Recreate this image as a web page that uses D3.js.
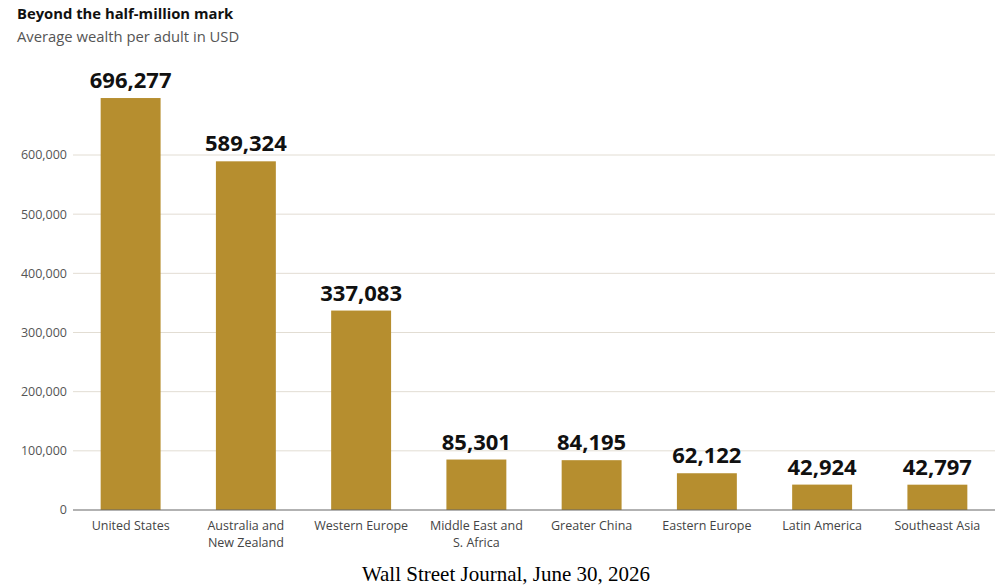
<!DOCTYPE html>
<html>
<head>
<meta charset="utf-8">
<script src="https://cdn.jsdelivr.net/npm/d3@7"></script>
<style>
  body { margin: 0; background: #fff; }
  text { font-family: "Open Sans", "Noto Sans", sans-serif; }
</style>
</head>
<body>
<div class="container"></div>
<script>
const regions = ['United States', 'Australia and|New Zealand', 'Western Europe', 'Middle East and|S. Africa',
    'Greater China', 'Eastern Europe', 'Latin America', 'Southeast Asia'];
const wealth = [696277, 589324, 337083, 85301, 84195, 62122, 42924, 42797];
const yTicks = [0, 100000, 200000, 300000, 400000, 500000, 600000];

const width = 1004;
const height = 587;
const margin = { top: 98, bottom: 77, left: 73, right: 9 };

const svg = d3.select('.container')
    .append('svg')
    .attr('width', width)
    .attr('height', height);

const x = d3.scaleBand()
    .domain(regions)
    .range([margin.left, width - margin.right])
    .paddingInner(0.48)
    .paddingOuter(0.24);

const y = d3.scaleLinear()
    .domain([0, 600000])
    .range([height - margin.bottom, 155]);

const fmt = d3.format(',');

// gridlines
svg.append('g')
    .selectAll('line')
    .data(yTicks.slice(1))
    .join('line')
    .attr('x1', margin.left)
    .attr('x2', width - margin.right)
    .attr('y1', d => y(d))
    .attr('y2', d => y(d))
    .style('stroke', '#e2ddd3')
    .style('stroke-width', 1);

// y tick labels
svg.append('g')
    .selectAll('text')
    .data(yTicks)
    .join('text')
    .attr('x', margin.left - 6)
    .attr('y', d => y(d))
    .attr('dy', '0.35em')
    .attr('text-anchor', 'end')
    .style('font-size', '12.5px')
    .style('fill', '#555')
    .text(d => fmt(d));

// bars
svg.append('g')
    .selectAll('rect')
    .data(wealth)
    .join('rect')
    .attr('x', (d, i) => x(regions[i]))
    .attr('y', d => y(d))
    .attr('width', x.bandwidth())
    .attr('height', d => y(0) - y(d))
    .style('fill', '#b68e2f');

// value labels
svg.append('g')
    .selectAll('text')
    .data(wealth)
    .join('text')
    .attr('x', (d, i) => x(regions[i]) + x.bandwidth() / 2)
    .attr('y', d => y(d) - 10)
    .attr('text-anchor', 'middle')
    .style('font-size', '22px')
    .style('font-weight', 'bold')
    .style('fill', '#111')
    .text(d => fmt(d));

// baseline
svg.append('line')
    .attr('x1', margin.left)
    .attr('x2', width - margin.right)
    .attr('y1', y(0))
    .attr('y2', y(0))
    .style('stroke', '#666')
    .style('stroke-width', 1.2);

// category labels
const cat = svg.append('g')
    .selectAll('text')
    .data(regions)
    .join('text')
    .attr('x', d => x(d) + x.bandwidth() / 2)
    .attr('y', y(0) + 20)
    .attr('text-anchor', 'middle')
    .style('font-size', '12.5px')
    .style('fill', '#444');

cat.selectAll('tspan')
    .data(d => d.split('|'))
    .join('tspan')
    .attr('x', function () { return d3.select(this.parentNode).attr('x'); })
    .attr('dy', (d, i) => i === 0 ? 0 : 17)
    .text(d => d);

// title
svg.append('text')
    .attr('x', 17)
    .attr('y', 19)
    .style('font-size', '14.8px')
    .style('font-weight', 'bold')
    .style('fill', '#111')
    .text('Beyond the half-million mark');

svg.append('text')
    .attr('x', 17)
    .attr('y', 42)
    .style('font-size', '14.8px')
    .style('fill', '#555')
    .text('Average wealth per adult in USD');

// source
svg.append('text')
    .attr('x', 506)
    .attr('y', 581)
    .attr('text-anchor', 'middle')
    .style('font-family', '"Liberation Serif", "Times New Roman", serif')
    .style('font-size', '21px')
    .style('fill', '#000')
    .text('Wall Street Journal, June 30, 2026');
</script>
</body>
</html>
